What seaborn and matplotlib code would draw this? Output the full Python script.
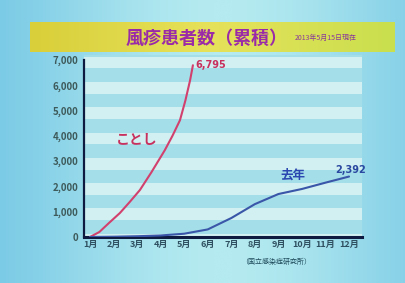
import numpy as np
import pandas as pd
import matplotlib
matplotlib.use("Agg")
import matplotlib.pyplot as plt
import seaborn as sns
from matplotlib.colors import LinearSegmentedColormap

sns.set_theme(style="white")
plt.rcParams['font.family'] = ['Noto Sans CJK JP', 'DejaVu Sans']

# ---- data ----
title = "風疹患者数（累積）"
subtitle = "2013年5月15日現在"
source = "（国立感染症研究所）"
months = ["1月", "2月", "3月", "4月", "5月", "6月", "7月", "8月", "9月", "10月", "11月", "12月"]
y_ticks = [0, 1000, 2000, 3000, 4000, 5000, 6000, 7000]

this_year_x = [1.0, 1.4, 1.8, 2.27, 2.7, 3.12, 3.6, 4.18, 4.5, 4.82, 5.05, 5.25, 5.37]
this_year_y = [0, 200, 550, 950, 1400, 1860, 2550, 3440, 4000, 4620, 5400, 6200, 6795]
this_year_label = "ことし"
this_year_final = "6,795"

last_year_x = [1, 2, 3, 4, 5, 6, 7, 8, 9, 10, 11, 12]
last_year_y = [0, 10, 30, 60, 130, 300, 750, 1300, 1700, 1900, 2150, 2392]
last_year_label = "去年"
last_year_final = "2,392"

df_this = pd.DataFrame({"month": this_year_x, "cases": this_year_y})
df_last = pd.DataFrame({"month": last_year_x, "cases": last_year_y})

W, H = 405, 283
fig = plt.figure(figsize=(W / 100, H / 100), dpi=100)

# background gradient
bg = fig.add_axes([0, 0, 1, 1], zorder=-10)
gx = np.linspace(0, 1, 200)
grad = np.tile(1 - np.exp(-((gx - 0.55) ** 2) / 0.25), (10, 1))
cmap = LinearSegmentedColormap.from_list("bgc", ["#b4eaf0", "#7ccbe6"])
bg.imshow(grad, aspect="auto", cmap=cmap, extent=[0, 1, 0, 1])
bg.set_axis_off()

# title banner
banner = fig.add_axes([30 / W, 1 - 52 / H, 365 / W, 30 / H], zorder=-5)
bg_b = np.tile(np.linspace(0, 1, 200), (5, 1))
cmap_b = LinearSegmentedColormap.from_list("ban", ["#d9cf3a", "#e6e25a", "#c9df4e"])
banner.imshow(bg_b, aspect="auto", cmap=cmap_b, extent=[0, 1, 0, 1])
banner.set_axis_off()
fig.text(207 / W, 1 - 38 / H, title, fontsize=13, fontweight="bold", color="#9a2aa8",
         ha="center", va="center")
fig.text(295 / W, 1 - 38 / H, subtitle, fontsize=5, color="#8a3a9a", ha="left", va="center")

# main axes
left, right = 84 / W, 362 / W
bottom, top = 1 - 237 / H, 1 - 55 / H
ax = fig.add_axes([left, bottom, right - left, top - bottom])
ax.set_facecolor("#a4dfe9")
ax.set_xlim(0.745, 12.55)
ax.set_ylim(0, 7200)

# stripes
for k in range(0, 8):
    c = k * 1000 - 100
    ax.axhspan(c - 230, c + 230, color="#e2f6f4", alpha=0.75, lw=0, zorder=0)

sns.lineplot(data=df_this, x="month", y="cases", ax=ax, color="#d2406e", lw=1.5, zorder=3)
sns.lineplot(data=df_last, x="month", y="cases", ax=ax, color="#3a56a8", lw=1.5, zorder=3)

ax.text(3.0, 3830, this_year_label, fontsize=10, fontweight="bold", color="#c8305e",
        ha="center", va="center")
ax.text(5.47, 6795, this_year_final, fontsize=7, fontweight="bold", color="#c8305e",
        ha="left", va="center", family="DejaVu Sans")
ax.text(9.6, 2450, last_year_label, fontsize=9, fontweight="bold", color="#2a48b0",
        ha="center", va="center")
ax.text(11.4, 2650, last_year_final, fontsize=7, fontweight="bold", color="#2a48a0",
        ha="left", va="center", family="DejaVu Sans")

ax.set_xticks(range(1, 13))
ax.set_xticklabels(months)
ax.set_yticks(y_ticks)
ax.set_yticklabels([f"{v:,}" for v in y_ticks])
ax.set_xlabel("")
ax.set_ylabel("")
ax.tick_params(axis="y", labelsize=7, colors="#3e5a5a", length=3, width=1, direction="out", pad=1)
ax.tick_params(axis="x", labelsize=6.5, colors="#2f5060", length=0, pad=2)
for lbl in ax.get_yticklabels() + ax.get_xticklabels():
    lbl.set_fontweight("bold")
ax.tick_params(axis="y", color="#102040")
for s in ["top", "right"]:
    ax.spines[s].set_visible(False)
ax.spines["left"].set_color("#0e1a40")
ax.spines["left"].set_linewidth(1.6)
ax.spines["bottom"].set_color("#0e1a40")
ax.spines["bottom"].set_linewidth(2.2)
ax.spines["left"].set_bounds(0, 7000)

fig.text(276 / W, 1 - 262 / H, source, fontsize=5, color="#1e4a5a", ha="center", va="center")

fig.savefig("out.png", dpi=100)
